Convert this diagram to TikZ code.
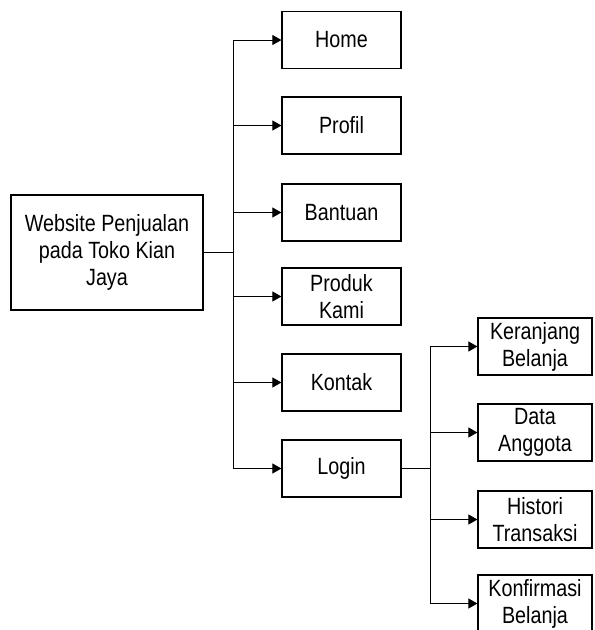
\documentclass[tikz,border=0pt]{standalone}
\usepackage{fontspec}
\setmainfont[FakeStretch=0.84]{Liberation Sans}
\usetikzlibrary{arrows.meta}
\begin{document}
\begin{tikzpicture}[x=1pt,y=-1pt,
  box/.style={draw,line width=1.2pt,minimum height=57pt,inner sep=0pt,align=center,font=\fontsize{23.5}{27}\selectfont},
  lvl/.style={box,minimum width=119pt},
  sub/.style={box,minimum width=114pt},
  conn/.style={line width=0.9pt},
  arr/.style={conn,-{Triangle[length=9pt,width=10pt]}}]
\useasboundingbox (0,0) rectangle (595,630);
\clip (0,0) rectangle (595,630);
\node[box,minimum width=192pt,minimum height=115pt] (main) at (107,252.5) {Website Penjualan\\pada Toko Kian\\Jaya};
\node[lvl] (home) at (341.5,40) {Home};
\node[lvl] (profil) at (341.5,125.5) {Profil};
\node[lvl] (bantuan) at (341.5,212.5) {Bantuan};
\node[lvl] (produk) at (341.5,296.5) {Produk\\Kami};
\node[lvl] (kontak) at (341.5,382.5) {Kontak};
\node[lvl] (login) at (341.5,468.5) {Login};
\node[sub] (keranjang) at (535,346.5) {Keranjang\\Belanja};
\node[sub] (data) at (535,432.5) {Data\\Anggota};
\node[sub] (histori) at (535,519.5) {Histori\\Transaksi};
\node[sub] (konfirmasi) at (535,603.5) {Konfirmasi\\Belanja};
\coordinate (tk) at (233,0);
\coordinate (tk2) at (430,0);
\draw[conn] (main.east) -- (tk |- main.east);
\draw[conn] (tk |- home.west) -- (tk |- login.west);
\foreach \n in {home,profil,bantuan,produk,kontak,login}
  \draw[arr] (tk |- \n.west) -- (\n.west);
\draw[conn] (login.east) -- (tk2 |- login.east);
\draw[conn] (tk2 |- keranjang.west) -- (tk2 |- konfirmasi.west);
\foreach \n in {keranjang,data,histori,konfirmasi}
  \draw[arr] (tk2 |- \n.west) -- (\n.west);
\end{tikzpicture}
\end{document}
